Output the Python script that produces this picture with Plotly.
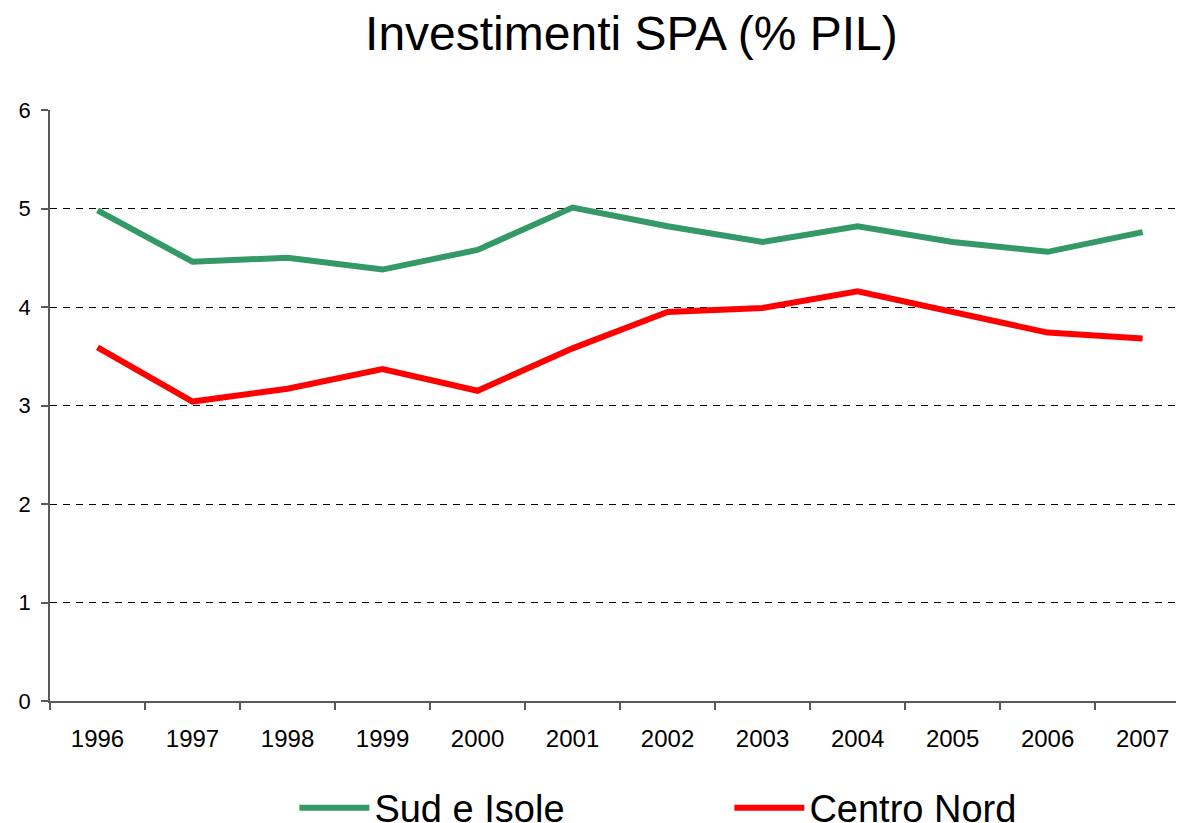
import plotly.graph_objects as go

years = ["1996", "1997", "1998", "1999", "2000", "2001", "2002", "2003", "2004", "2005", "2006", "2007"]
sud_isole = [4.98, 4.46, 4.50, 4.38, 4.58, 5.01, 4.82, 4.66, 4.82, 4.66, 4.56, 4.76]
centro_nord = [3.59, 3.04, 3.17, 3.37, 3.15, 3.58, 3.95, 3.99, 4.16, 3.95, 3.74, 3.68]
y_ticks = [0, 1, 2, 3, 4, 5, 6]

FONT = "Arial, Liberation Sans, sans-serif"

fig = go.Figure()
fig.add_trace(go.Scatter(x=years, y=sud_isole, mode="lines", name="Sud e Isole",
                         line=dict(color="#339966", width=6)))
fig.add_trace(go.Scatter(x=years, y=centro_nord, mode="lines", name="Centro Nord",
                         line=dict(color="#FF0000", width=6)))

fig.update_layout(
    width=1184, height=823,
    margin=dict(l=42, r=0, t=102, b=130, autoexpand=False),
    paper_bgcolor="white", plot_bgcolor="white",
    font=dict(family=FONT, color="black"),
    title=dict(text="Investimenti SPA (% PIL)", x=0.5265, xanchor="center",
               y=0.970, yanchor="middle", yref="container",
               font=dict(size=48, family=FONT, color="black")),
    showlegend=True,
    legend=dict(orientation="h", x=0.214, xanchor="left", y=-0.181, yanchor="middle",
                font=dict(size=38, family=FONT, color="black"),
                entrywidth=350, entrywidthmode="pixels", bgcolor="rgba(0,0,0,0)",
                itemwidth=70),
)

fig.update_xaxes(
    type="category", range=[-0.5, 11.52],
    showline=True, linecolor="#595959", linewidth=1.5,
    ticks="outside", tickson="boundaries", ticklen=7, tickcolor="#595959", tickwidth=1.5,
    showgrid=False, zeroline=False,
    tickfont=dict(size=24, family=FONT, color="black"),
    ticklabelstandoff=15,
)
fig.update_yaxes(
    range=[0, 6], tickvals=y_ticks,
    showline=True, linecolor="#595959", linewidth=1.5,
    ticks="outside", ticklen=7, tickcolor="#595959", tickwidth=1.5,
    showgrid=True, gridcolor="black", gridwidth=1, griddash="7px,6px",
    zeroline=False,
    tickfont=dict(size=22, family=FONT, color="black"),
    ticklabelstandoff=6,
)

fig.write_html("out.html")
